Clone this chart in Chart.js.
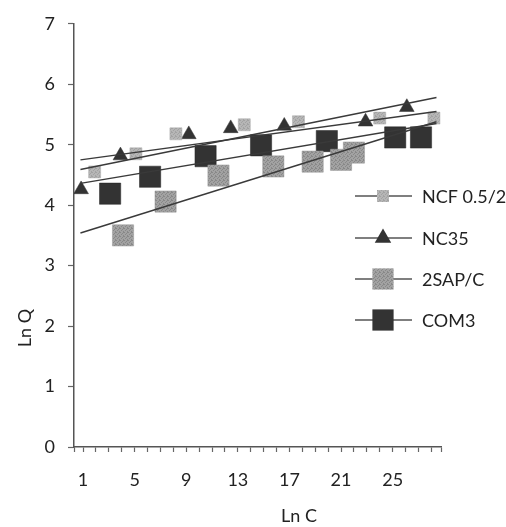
<!DOCTYPE html>
<html lang="en">
<head>
  <meta charset="UTF-8" />
  <title>Ln Q vs Ln C</title>
  <script src="https://cdn.jsdelivr.net/npm/chart.js"></script>
  <style>
    body { margin: 0; background: #fff; }
    canvas { display: block; }
  </style>
</head>
<body>
  <canvas id="chart" width="506" height="527"></canvas>
  <script>
    // values
    const seriesNames = ['NCF 0.5/2', 'NC35', '2SAP/C', 'COM3'];
    const ncfX = [1.9, 5.1, 8.2, 13.5, 17.7, 24.0, 28.2];
    const ncfY = [4.55, 4.85, 5.18, 5.33, 5.38, 5.44, 5.44];
    const nc35X = [0.85, 3.9, 9.2, 12.45, 16.6, 22.9, 26.1];
    const nc35Y = [4.26, 4.82, 5.17, 5.27, 5.31, 5.38, 5.62];
    const sapX = [4.1, 7.4, 11.5, 15.75, 18.8, 21.0, 22.0];
    const sapY = [3.5, 4.06, 4.49, 4.64, 4.72, 4.75, 4.87];
    const comX = [3.1, 6.2, 10.5, 14.8, 19.9, 25.2, 27.2];
    const comY = [4.19, 4.47, 4.81, 4.99, 5.06, 5.12, 5.12];
    // trend line ends
    const trendX = [0.8, 28.4];
    const ncfTrend = [4.75, 5.55];
    const nc35Trend = [4.59, 5.78];
    const sapTrend = [3.54, 5.38];
    const comTrend = [4.36, 5.35];
    const xLabels = [1, 5, 9, 13, 17, 21, 25];
    const yTicks = [0, 1, 2, 3, 4, 5, 6, 7];

    const pts = (xs, ys) => xs.map((x, i) => ({ x: x, y: ys[i] }));

    // speckled grey fill like the printed markers
    function dither(base, dot) {
      const c = document.createElement('canvas');
      c.width = 4; c.height = 4;
      const g = c.getContext('2d');
      g.fillStyle = base; g.fillRect(0, 0, 4, 4);
      g.fillStyle = dot;
      [[0, 0], [2, 1], [1, 2], [3, 3], [3, 0]].forEach(p => g.fillRect(p[0], p[1], 1, 1));
      return g.createPattern(c, 'repeat');
    }
    const ncfFill = dither('#b6b6b6', '#a2a2a2');
    const sapFill = dither('#a2a2a2', '#888888');
    const dark = '#333333';

    const styles = [
      { shape: 'rect', r: 8.5, fill: ncfFill, border: '#aaa' },
      { shape: 'triangle', r: 8.5, fill: dark, border: dark },
      { shape: 'rect', r: 15, fill: sapFill, border: '#999' },
      { shape: 'rect', r: 15, fill: dark, border: '#222' }
    ];

    function markerSet(i, xs, ys) {
      const s = styles[i];
      return {
        label: seriesNames[i], data: pts(xs, ys), order: 2,
        pointStyle: s.shape, pointRadius: s.r, pointHoverRadius: s.r,
        backgroundColor: s.fill, borderColor: s.border, borderWidth: 0.5, showLine: false
      };
    }
    function trendSet(ys) {
      return {
        label: 'trend', data: pts(trendX, ys), order: 1, type: 'line',
        showLine: true, pointRadius: 0, borderColor: '#3a3a3a', borderWidth: 1.4, fill: false
      };
    }

    // axis titles and the line+marker legend
    const extras = {
      id: 'extras',
      afterDraw(chart) {
        const ctx = chart.ctx;
        ctx.save();
        ctx.fillStyle = '#222';
        ctx.font = '18px Lato';
        ctx.textAlign = 'center';
        ctx.textBaseline = 'middle';
        ctx.fillText('Ln C', 299, 516);
        ctx.translate(25, 328);
        ctx.rotate(-Math.PI / 2);
        ctx.fillText('Ln Q', 0, 0);
        ctx.restore();

        const rows = [196, 238, 279, 320];
        ctx.save();
        rows.forEach((y, i) => {
          const s = styles[i];
          ctx.strokeStyle = '#555';
          ctx.lineWidth = 1.5;
          ctx.beginPath(); ctx.moveTo(355, y); ctx.lineTo(412, y); ctx.stroke();
          ctx.fillStyle = s.fill;
          ctx.beginPath();
          if (s.shape === 'rect') {
            const h = s.r * Math.SQRT1_2;
            ctx.rect(383 - h, y - h, 2 * h, 2 * h);
          } else {
            const r = s.r + 1;
            ctx.moveTo(383, y - r);
            ctx.lineTo(383 + r * 0.866, y + r / 2);
            ctx.lineTo(383 - r * 0.866, y + r / 2);
            ctx.closePath();
          }
          ctx.fill();
          ctx.fillStyle = '#222';
          ctx.font = '18px Lato';
          ctx.textAlign = 'left';
          ctx.textBaseline = 'middle';
          ctx.fillText(seriesNames[i], 422, y + 1);
        });
        ctx.restore();
      }
    };

    new Chart(document.getElementById('chart'), {
      type: 'scatter',
      data: {
        datasets: [
          markerSet(0, ncfX, ncfY),
          markerSet(1, nc35X, nc35Y),
          markerSet(2, sapX, sapY),
          markerSet(3, comX, comY),
          trendSet(ncfTrend),
          trendSet(nc35Trend),
          trendSet(sapTrend),
          trendSet(comTrend)
        ]
      },
      options: {
        responsive: false,
        animation: false,
        layout: { padding: { top: 14, right: 65, left: 0, bottom: 0 } },
        plugins: { legend: { display: false }, tooltip: { enabled: false } },
        scales: {
          x: {
            type: 'linear', min: 0.3, max: 28.75,
            afterFit: s => { s.height = 80; },
            // a tick mark at every whole unit, plus both axis ends
            afterBuildTicks: s => {
              const t = [{ value: s.min }];
              for (let v = Math.ceil(s.min); v <= s.max; v++) t.push({ value: v });
              t.push({ value: s.max });
              s.ticks = t;
            },
            border: { color: '#555', width: 1.5 },
            grid: { drawOnChartArea: false, drawTicks: true, tickLength: 5, tickColor: '#666', tickWidth: 1.2 },
            ticks: {
              autoSkip: false, maxRotation: 0, padding: 17, color: '#222',
              font: { family: 'Lato', size: 18 },
              callback: v => xLabels.includes(v) ? String(v) : ''
            }
          },
          y: {
            min: yTicks[0], max: yTicks[yTicks.length - 1],
            afterFit: s => { s.width = 74; },
            border: { color: '#555', width: 1.5 },
            grid: { drawOnChartArea: false, drawTicks: true, tickLength: 6, tickColor: '#666', tickWidth: 1.2 },
            ticks: { stepSize: 1, padding: 13, color: '#222', font: { family: 'Lato', size: 18 } }
          }
        }
      },
      plugins: [extras]
    });
  </script>
</body>
</html>
